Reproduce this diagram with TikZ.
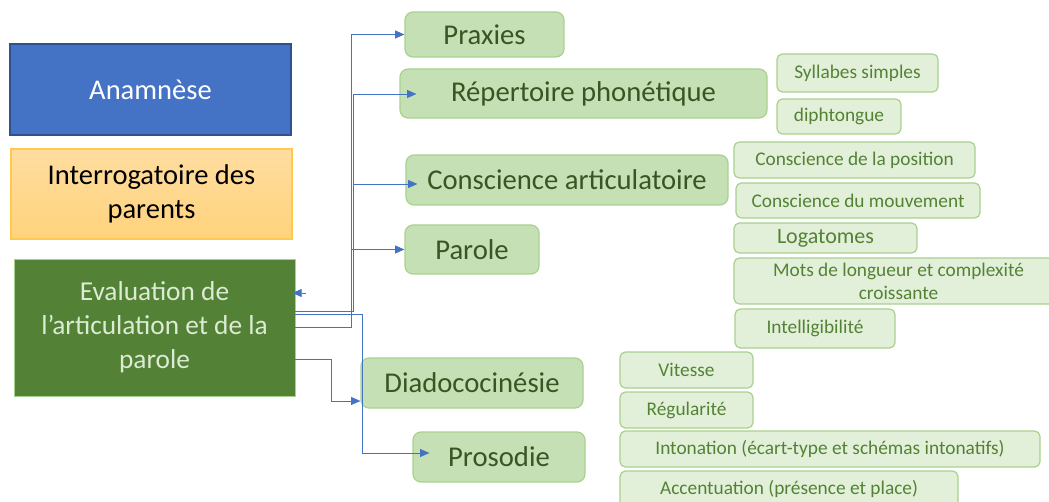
\documentclass[tikz,border=0pt]{standalone}
\usepackage{fontspec}
\setmainfont{Carlito}
\usetikzlibrary{arrows.meta,calc}
\definecolor{anamfill}{HTML}{4472C4}
\definecolor{anamline}{HTML}{2F528F}
\definecolor{interrtop}{HTML}{FFDDA0}
\definecolor{interrbot}{HTML}{FFD37C}
\definecolor{interrline}{HTML}{FFC94D}
\definecolor{evalfill}{HTML}{538135}
\definecolor{evaltext}{HTML}{DCEBD3}
\definecolor{subfill}{HTML}{C5E0B4}
\definecolor{subline}{HTML}{A9D18E}
\definecolor{subtext}{HTML}{375623}
\definecolor{leaffill}{HTML}{E2F0D9}
\definecolor{leaftext}{HTML}{548235}
\definecolor{linkblue}{HTML}{4472C4}
\begin{document}
\begin{tikzpicture}[x=0.75pt,y=-0.75pt,
    mainbox/.style={rectangle, minimum width=210.75pt, inner sep=0pt, align=center,
      font=\fontsize{21.4}{25.5}\selectfont},
    sub/.style={rectangle, rounded corners=6pt, fill=subfill, draw=subline, line width=0.9pt,
      text=subtext, inner sep=0pt, font=\fontsize{21.5}{25}\selectfont},
    leaf/.style={rectangle, rounded corners=4pt, fill=leaffill, draw=subline, line width=0.9pt,
      text=leaftext, inner sep=0pt, align=center, font=\fontsize{14.5}{17.25}\selectfont},
    link/.style={draw=linkblue, line width=0.6pt, -{Triangle[length=7pt,width=6pt]}}]
  \useasboundingbox (0,0) rectangle (1049,502);

  % left column
  \node[mainbox, minimum height=68.25pt, fill=anamfill, draw=anamline, line width=1.1pt, text=white]
    (anam) at (150.5,89.5) {Anamnèse};
  \node[mainbox, minimum height=67.5pt, top color=interrtop, bottom color=interrbot, draw=interrline, line width=0.8pt]
    (interr) at (151.5,194) {Interrogatoire des\\parents};
  \node[mainbox, minimum height=102.75pt, fill=evalfill, draw=subline, line width=0.6pt, text=evaltext,
    font=\fontsize{20.5}{25.5}\selectfont]
    (evalbox) at (154.5,327.5) {Evaluation de\\l’articulation et de la\\parole};

  % second level
  \node[sub, minimum width=119.25pt, minimum height=33.75pt] (praxies) at (484.5,34.5) {Praxies};
  \node[sub, minimum width=275.25pt, minimum height=36.75pt] (rep) at (583.5,93.5) {Répertoire phonétique};
  \node[sub, minimum width=241.5pt, minimum height=37.5pt] (consc) at (567,180) {Conscience articulatoire};
  \node[sub, minimum width=100.5pt, minimum height=36.75pt] (parole) at (472,249.5) {Parole};
  \node[sub, minimum width=166.5pt, minimum height=37.5pt] (diado) at (472,383) {Diadococinésie};
  \node[sub, minimum width=129pt, minimum height=37.5pt] (prosodie) at (499,457) {Prosodie};

  % third level
  \node[leaf, minimum width=120.75pt, minimum height=28.5pt] (syll) at (857.5,73) {Syllabes simples};
  \node[leaf, minimum width=93pt, minimum height=26.25pt] (diph) at (839,116.5) {diphtongue};
  \node[leaf, minimum width=180.75pt, minimum height=27pt] (cpos) at (854.5,160) {Conscience de la position};
  \node[leaf, minimum width=183pt, minimum height=26.25pt] (cmouv) at (858,200.5) {Conscience du mouvement};
  \node[leaf, minimum width=137.25pt, minimum height=22.5pt, font=\fontsize{16.5}{19}\selectfont]
    (loga) at (825.5,238) {Logatomes};
  \node[leaf, minimum width=246.75pt, minimum height=34.5pt] (mots) at (898.5,281)
    {Mots de longueur et complexité\\croissante};
  \node[leaf, minimum width=120pt, minimum height=29.25pt] (intel) at (815,328.5) {Intelligibilité};
  \node[leaf, minimum width=99.75pt, minimum height=27pt] (vitesse) at (686.5,370) {Vitesse};
  \node[leaf, minimum width=99.75pt, minimum height=27pt] (regul) at (686.5,410) {Régularité};
  \node[leaf, minimum width=315pt, minimum height=27pt] (inton) at (830,449)
    {Intonation (écart-type et schémas intonatifs)};
  \node[leaf, minimum width=253.5pt, minimum height=27pt] (accent) at (789,489)
    {Accentuation (présence et place)};

  % connectors
  \draw[link] (evalbox.east) -- ++(56,0) |- (praxies.west);
  \draw[link] ($(evalbox.east)+(0,-16.5)$) -- ++(58,0) |- ($(rep.west)+(17,0.5)$);
  \draw[link] ($(evalbox.east)+(0,-16.5)$) -- ++(58,0) |- ($(consc.west)+(12,4)$);
  \draw[link] (evalbox.east) -- ++(56,0) |- (parole.west);
  \draw[link] ($(evalbox.east)+(0,31.5)$) -- ++(36,0) |- ($(diado.west)+(0,18)$);
  \draw[link] ($(evalbox.east)+(0,-13.5)$) -- ++(67,0) |- ($(prosodie.west)+(17,-4)$);
  \coordinate (stub) at (306,293);
  \draw[link] (stub) -- ($(evalbox.east)+(-3,-34.5)$);
\end{tikzpicture}
\end{document}
